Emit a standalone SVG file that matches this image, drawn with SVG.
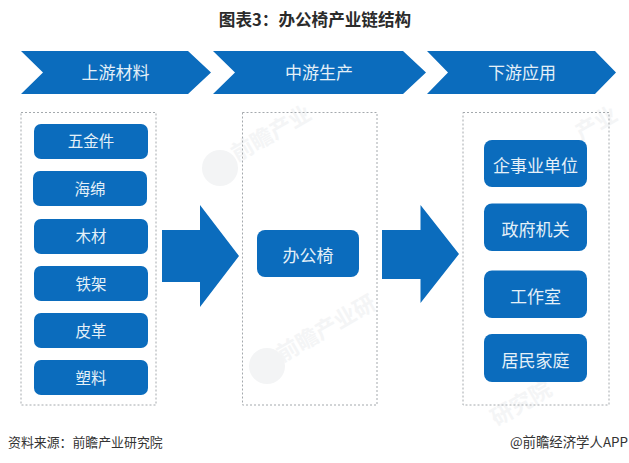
<svg xmlns="http://www.w3.org/2000/svg" width="629" height="463" viewBox="0 0 629 463">
<style>
text{font-family:"Noto Sans CJK SC","Liberation Sans",sans-serif;text-anchor:middle}
.fill{fill:#0b6cbd}
.box{fill:none;stroke:#a4a9ad;stroke-width:1;stroke-dasharray:2 2}
.lb{fill:#e4f0f8;font-size:17px;dominant-baseline:central}
.sm{fill:#e4f0f8;font-size:15.500px;dominant-baseline:central}
.wm{fill:#f4f5f6;font-size:22px;font-weight:700}
.wc{fill:#f3f4f5}
.foot{fill:#333;font-size:12.900px}
</style>
<rect width="629" height="463" fill="#fff"/>
<g id="watermarks">
<text class="wm" transform="translate(275,140) rotate(-30)">前瞻产业</text>
<circle class="wc" cx="220" cy="168" r="18"/>
<text class="wm" transform="translate(330,335) rotate(-30)">前瞻产业研</text>
<circle class="wc" cx="267" cy="366" r="18"/>
<text class="wm" transform="translate(600,130) rotate(-30)">产业</text>
<text class="wm" transform="translate(525,410) rotate(-30)">研究院</text>
</g>
<text x="315" y="26" style="font-size:16.600px;font-weight:700;fill:#2b2b2b">图表3：办公椅产业链结构</text>
<g id="connectors">
<path class="fill" d="M162 230H200V205L239 256L200 307V282H162Z"/>
<path class="fill" d="M382 230H420.500V205L459 254L420.500 303V279H382Z"/>
</g>
<g id="stage-upstream"><path class="fill" d="M21 51H188L211 72.500L188 94H21L43 72.500Z"/><text class="lb" x="115.500" y="71.500">上游材料</text></g>
<g id="stage-midstream"><path class="fill" d="M213 51H403L426 72.500L403 94H213L235 72.500Z"/><text class="lb" x="319" y="71.500">中游生产</text></g>
<g id="stage-downstream"><path class="fill" d="M427 51H595L616 72.500L595 94H427L448 72.500Z"/><text class="lb" x="522" y="71.500">下游应用</text></g>
<g id="group-upstream"><rect class="box" x="21" y="112.500" width="135" height="292.500"/></g>
<g id="group-midstream"><rect class="box" x="242.500" y="112.500" width="134.500" height="292.500"/></g>
<g id="group-downstream"><rect class="box" x="463" y="112.500" width="146" height="292.500"/></g>
<g id="n-wujinjian"><rect class="fill" x="34" y="124" width="114" height="35" rx="7"/><text class="sm" x="91" y="140">五金件</text></g>
<g id="n-haimian"><rect class="fill" x="33" y="171" width="114" height="35" rx="7"/><text class="sm" x="90" y="187.500">海绵</text></g>
<g id="n-mucai"><rect class="fill" x="34" y="219" width="114" height="35" rx="7"/><text class="sm" x="91" y="235">木材</text></g>
<g id="n-tiejia"><rect class="fill" x="34" y="266" width="114" height="35" rx="7"/><text class="sm" x="91" y="282.500">铁架</text></g>
<g id="n-pige"><rect class="fill" x="34" y="313" width="114" height="35" rx="7"/><text class="sm" x="91" y="329.500">皮革</text></g>
<g id="n-suliao"><rect class="fill" x="34" y="360" width="114" height="35" rx="7"/><text class="sm" x="91" y="376.500">塑料</text></g>
<g id="n-chair"><rect class="fill" x="257" y="230" width="102" height="47" rx="8"/><text class="lb" x="308" y="254">办公椅</text></g>
<g id="n-qishiye"><rect class="fill" x="484" y="140" width="103" height="47" rx="8"/><text class="lb" x="535.500" y="164.500">企事业单位</text></g>
<g id="n-zhengfu"><rect class="fill" x="484" y="203.500" width="103" height="47.500" rx="8"/><text class="lb" x="535.500" y="228">政府机关</text></g>
<g id="n-gongzuoshi"><rect class="fill" x="484" y="270.500" width="103" height="47.500" rx="8"/><text class="lb" x="535.500" y="295">工作室</text></g>
<g id="n-jumin"><rect class="fill" x="484" y="334" width="103" height="48" rx="8"/><text class="lb" x="535.500" y="359">居民家庭</text></g>
<text class="foot" x="8" y="447" style="text-anchor:start">资料来源：前瞻产业研究院</text>
<text class="foot" x="628" y="447" style="text-anchor:end;font-size:13.400px">@前瞻经济学人APP</text>
</svg>
